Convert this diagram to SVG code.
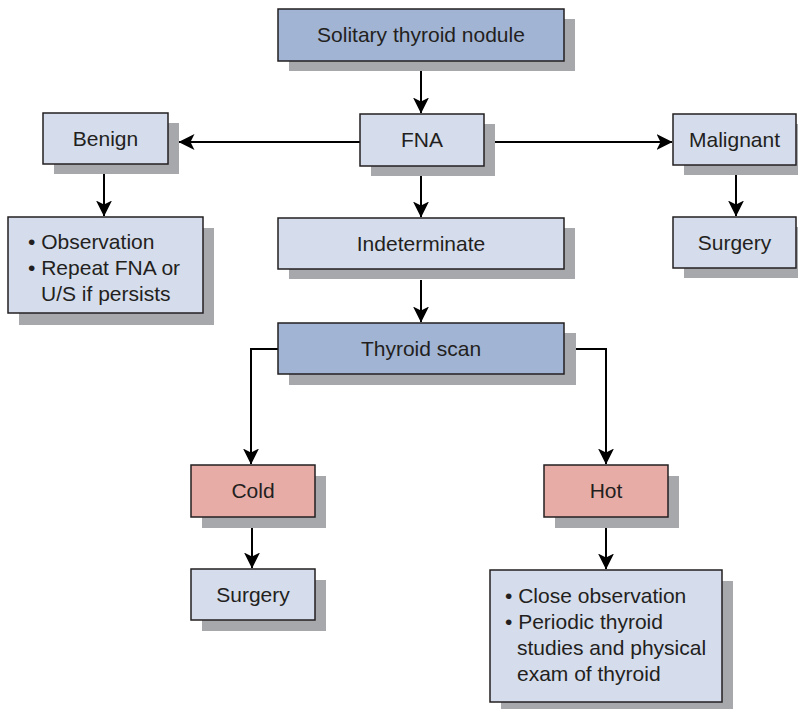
<svg xmlns="http://www.w3.org/2000/svg" width="798" height="709" viewBox="0 0 798 709">
<style>
.sh{fill:#a7a8ac}
.bx{stroke:#231f20;stroke-width:1.5}
.dk{fill:#a1b4d4}
.lt{fill:#d5dcec}
.pk{fill:#e8aca6}
text{font-family:"Liberation Sans",Arial,sans-serif;font-size:21px;fill:#231f20}
.c{text-anchor:middle}
.ln{stroke:#000;stroke-width:2;fill:none;marker-end:url(#ah)}
</style>
<defs>
<marker id="ah" markerUnits="userSpaceOnUse" markerWidth="16" markerHeight="16" viewBox="0 0 16 16" refX="15.5" refY="8" orient="auto">
<path d="M0,0 L16,8 L0,16 L4,8 Z" fill="#000"/>
</marker>
</defs>
<rect width="798" height="709" fill="#fff"/>
<g id="connectors">
<line class="ln" x1="421" y1="61" x2="421" y2="113"/>
<line class="ln" x1="360" y1="142" x2="179" y2="142"/>
<line class="ln" x1="484" y1="142" x2="672" y2="142"/>
<line class="ln" x1="104" y1="164" x2="104" y2="216"/>
<line class="ln" x1="736" y1="165" x2="736" y2="216"/>
<line class="ln" x1="421" y1="166" x2="421" y2="217"/>
<line class="ln" x1="421" y1="280" x2="421" y2="322"/>
<path class="ln" d="M278,349 H251 V464"/>
<path class="ln" d="M576,349 H606 V464"/>
<line class="ln" x1="252" y1="528" x2="252" y2="568"/>
<line class="ln" x1="606" y1="528" x2="606" y2="569"/>
</g>
<g id="solitary">
<rect class="sh" x="289" y="19" width="286" height="52"/>
<rect class="bx dk" x="278" y="9" width="286" height="52"/>
<text class="c" x="421" y="42">Solitary thyroid nodule</text>
</g>
<g id="fna">
<rect class="sh" x="371" y="124" width="124" height="52"/>
<rect class="bx lt" x="360" y="114" width="124" height="52"/>
<text class="c" x="422" y="147">FNA</text>
</g>
<g id="benign">
<rect class="sh" x="54" y="123" width="125" height="51"/>
<rect class="bx lt" x="43" y="113" width="125" height="51"/>
<text class="c" x="105.5" y="146">Benign</text>
</g>
<g id="malignant">
<rect class="sh" x="684" y="124" width="123" height="51"/>
<rect class="bx lt" x="673" y="114" width="123" height="51"/>
<text class="c" x="734.5" y="147">Malignant</text>
</g>
<g id="observation">
<rect class="sh" x="19" y="228" width="195" height="97"/>
<rect class="bx lt" x="8" y="217" width="195" height="96"/>
<text x="28" y="249">• Observation</text>
<text x="28" y="275">• Repeat FNA or</text>
<text x="41" y="301">U/S if persists</text>
</g>
<g id="surgery-malignant">
<rect class="sh" x="684" y="227" width="123" height="51"/>
<rect class="bx lt" x="673" y="217" width="123" height="51"/>
<text class="c" x="734.5" y="250">Surgery</text>
</g>
<g id="indeterminate">
<rect class="sh" x="289" y="228" width="286" height="51"/>
<rect class="bx lt" x="278" y="218" width="286" height="51"/>
<text class="c" x="421" y="251">Indeterminate</text>
</g>
<g id="thyroid-scan">
<rect class="sh" x="289" y="333" width="287" height="52"/>
<rect class="bx dk" x="278" y="323" width="286" height="51"/>
<text class="c" x="421" y="356">Thyroid scan</text>
</g>
<g id="cold">
<rect class="sh" x="202" y="476" width="124" height="52"/>
<rect class="bx pk" x="191" y="465" width="124" height="52"/>
<text class="c" x="253" y="498">Cold</text>
</g>
<g id="hot">
<rect class="sh" x="555" y="476" width="124" height="52"/>
<rect class="bx pk" x="544" y="465" width="124" height="52"/>
<text class="c" x="606" y="498">Hot</text>
</g>
<g id="surgery-cold">
<rect class="sh" x="202" y="580" width="124" height="51"/>
<rect class="bx lt" x="191" y="569" width="124" height="51"/>
<text class="c" x="253" y="602">Surgery</text>
</g>
<g id="close-observation">
<rect class="sh" x="501" y="581" width="232" height="128"/>
<rect class="bx lt" x="490" y="570" width="232" height="132"/>
<text x="505" y="603">• Close observation</text>
<text x="505" y="629">• Periodic thyroid</text>
<text x="517" y="655">studies and physical</text>
<text x="517" y="681">exam of thyroid</text>
</g>
</svg>
